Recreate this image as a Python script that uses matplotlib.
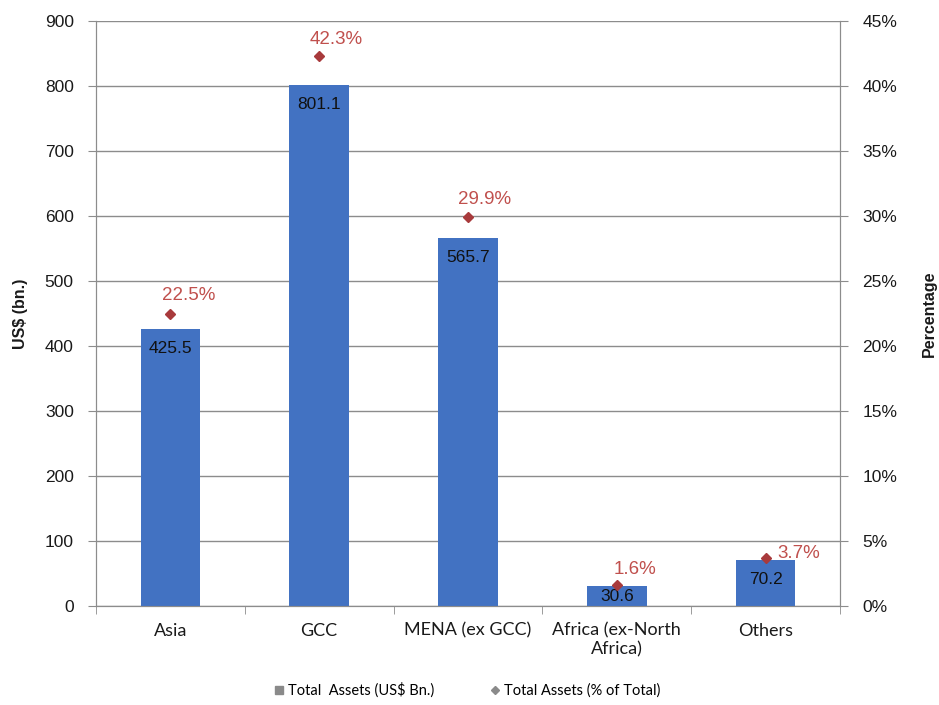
import matplotlib
matplotlib.use("Agg")
import matplotlib.pyplot as plt
from matplotlib.lines import Line2D
from matplotlib.ticker import FuncFormatter
import numpy as np

categories = ["Asia", "GCC", "MENA (ex GCC)", "Africa (ex-North\nAfrica)", "Others"]
assets_bn = [425.5, 801.1, 565.7, 30.6, 70.2]
share_pct = [22.5, 42.3, 29.9, 1.6, 3.7]
left_ticks = [0, 100, 200, 300, 400, 500, 600, 700, 800, 900]
right_ticks = [0, 5, 10, 15, 20, 25, 30, 35, 40, 45]

BAR = "#4272c2"
MARK = "#a83a3c"
LABEL_RED = "#c0504d"
GRID = "#8c8c8c"
TXT = "#1a1a1a"

plt.rcParams["font.family"] = ["Liberation Sans", "DejaVu Sans"]

fig = plt.figure(figsize=(9.39, 7.05), dpi=100)
ax = fig.add_axes([0.1022, 0.1404, 0.7924, 0.8298])
ax2 = ax.twinx()

x = np.arange(len(categories))
ax.bar(x, assets_bn, width=0.40, color=BAR, zorder=3)

ax.set_xlim(-0.5, len(categories) - 0.5)
ax.set_ylim(0, 900)
ax.set_yticks(left_ticks)
ax.yaxis.grid(True, color=GRID, linewidth=1.0, zorder=0)
ax.set_axisbelow(True)

for a in (ax, ax2):
    a.spines["top"].set_visible(False)
    a.spines["left"].set_color(GRID)
    a.spines["right"].set_color(GRID)
    a.spines["bottom"].set_color(GRID)

ax.tick_params(axis="y", direction="out", length=6, color=GRID, labelsize=12.5,
               labelcolor=TXT, pad=10)
ax.set_xticks(x)
ax.set_xticklabels(categories, fontsize=13, color=TXT, family=["Lato", "DejaVu Sans"])
ax.tick_params(axis="x", length=0, pad=12)
ax.set_xticks(np.arange(-0.5, len(categories) + 0.5, 1.0), minor=True)
ax.tick_params(axis="x", which="minor", direction="out", length=6, color=GRID)

ax.set_ylabel("US$ (bn.)", fontsize=11.5, fontweight="bold", color=TXT, labelpad=12)

# Value labels just inside the top of each bar (centred when the bar is short)
for xi, v in zip(x, assets_bn):
    y_lab = max(v - 30, v / 2)
    ax.text(xi, y_lab, f"{v:.1f}", ha="center", va="center", fontsize=12.5,
            color="#111111", zorder=5)

# Percentage share on the secondary axis
ax2.set_ylim(0, 45)
ax2.set_yticks(right_ticks)
ax2.yaxis.set_major_formatter(FuncFormatter(lambda v, p: f"{v:.0f}%"))
ax2.tick_params(axis="y", direction="out", length=6, color=GRID, labelsize=12.5,
                labelcolor=TXT, pad=10)
ax2.plot(x, share_pct, linestyle="none", marker="D", markersize=5, color=MARK, zorder=6)
label_offsets = {0: (13, 13), 1: (12, 12), 2: (12, 13), 3: (13, 11), 4: (24, 3)}
for i, (xi, p) in enumerate(zip(x, share_pct)):
    ax2.annotate(f"{p:.1f}%", (xi, p), xytext=label_offsets[i],
                 textcoords="offset points", ha="center", va="center",
                 fontsize=13.5, color=LABEL_RED, zorder=7)
ax2.set_ylabel("Percentage", fontsize=11.5, fontweight="bold", color=TXT, labelpad=18)

handles = [
    Line2D([], [], linestyle="none", marker="s", markersize=6, color="#8a8a8a"),
    Line2D([], [], linestyle="none", marker="D", markersize=4, color="#8a8a8a"),
]
fig.legend(handles, ["Total  Assets (US$ Bn.)", "Total Assets (% of Total)"],
           loc="center", bbox_to_anchor=(0.497, 0.021), ncol=2, frameon=False,
           handletextpad=0.2, columnspacing=3.8, handlelength=0.8,
           prop={"family": ["Lato", "DejaVu Sans"], "size": 10.5})

fig.savefig("out.png", dpi=100, facecolor="white")
